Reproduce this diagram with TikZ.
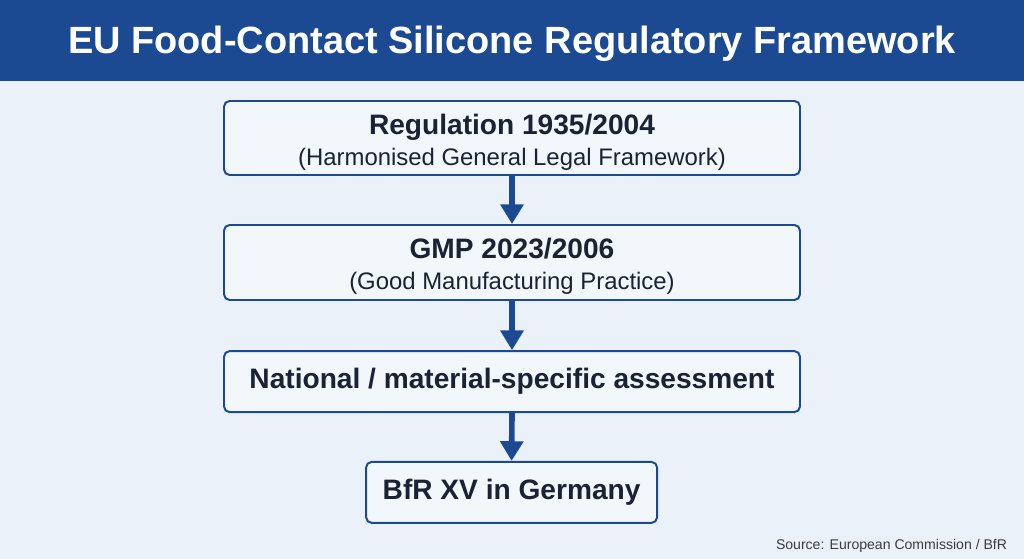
\documentclass[tikz,border=0pt]{standalone}
\usepackage{fontspec}
\setmainfont{Liberation Sans}
\usepackage{tikz}
\usetikzlibrary{arrows.meta}
\definecolor{eublue}{RGB}{27,74,147}
\definecolor{eunavy}{RGB}{26,34,51}
\definecolor{eubg}{RGB}{234,241,248}
\definecolor{eugray}{RGB}{60,60,60}

\tikzset{
  regbox/.style={draw=eublue, line width=1.4pt, rounded corners=4pt, fill=eubg!60!white,
    text=eunavy, align=center, inner sep=0pt, font=\fontsize{20}{22}\selectfont},
  flowarrow/.style={draw=eublue, line width=4pt,
    -{Triangle[length=14pt, width=16pt]}}
}

\begin{document}
\begin{tikzpicture}
                % Canvas and title bar
                \useasboundingbox (0,0) rectangle (25.6,-13.975);
                \fill[eubg] (0,0) rectangle (25.6,-13.975);
                \fill[eublue] (0,0) rectangle (25.6,-2.025);
                \node[text=white, font=\fontsize{27}{32}\selectfont\bfseries] (title) at (12.8,-1.1)
                    {EU Food-Contact Silicone Regulatory Framework};

                % Regulation boxes
                \node[regbox, minimum width=14.4cm, minimum height=1.85cm] (reg) at (12.8,-3.45)
                    {\rule{0pt}{20pt}{\bfseries Regulation 1935/2004}\\
                     {\fontsize{17}{22}\selectfont (Harmonised General Legal Framework)}};
                \node[regbox, minimum width=14.4cm, minimum height=1.875cm] (gmp) at (12.8,-6.5625)
                    {\rule{0pt}{20pt}{\bfseries GMP 2023/2006}\\
                     {\fontsize{17}{22}\selectfont (Good Manufacturing Practice)}};
                \node[regbox, minimum width=14.4cm, minimum height=1.525cm,
                      font=\fontsize{20}{24}\selectfont\bfseries] (natl) at (12.8,-9.54)
                    {National / material-specific assessment};
                \node[regbox, minimum width=7.275cm, minimum height=1.525cm,
                      font=\fontsize{20}{24}\selectfont\bfseries] (bfr) at (12.79,-12.31)
                    {BfR XV in Germany};

                % Arrows
                \draw[flowarrow] (reg.south) -- (gmp.north);
                \draw[flowarrow] (gmp.south) -- (natl.north);
                \draw[flowarrow] (natl.south) -- (bfr.north);

                % Source note
                \node[anchor=east, text=eugray, font=\fontsize{10}{12}\selectfont] (src) at (25.3,-13.65)
                    {Source: European Commission / BfR};
\end{tikzpicture}
\end{document}
